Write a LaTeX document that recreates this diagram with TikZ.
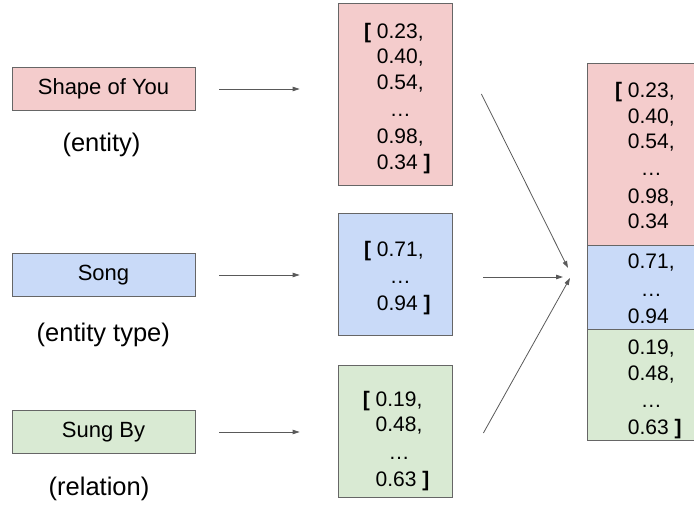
\documentclass[tikz,border=0pt]{standalone}
\usepackage{fontspec}
\setmainfont{Liberation Sans}
\usepackage{calc}
\usetikzlibrary{arrows.meta}
\definecolor{pinkc}{HTML}{F4CCCC}
\definecolor{bluec}{HTML}{C9DAF8}
\definecolor{greenc}{HTML}{D9EAD3}
\definecolor{edgec}{HTML}{666666}
\definecolor{arrc}{HTML}{595959}
\newcommand{\dotline}{\makebox[\widthof{0.40,}][c]{…}}
\newcommand{\openbr}{\llap{\textbf{[}\ }}
\newcommand{\closebr}{\rlap{\ \textbf{]}}}
\begin{document}
\begin{tikzpicture}[x=1pt,y=-1pt,
  lbox/.style={draw=edgec, line width=0.8pt, minimum width=183pt, minimum height=43pt, inner sep=0pt, font=\fontsize{22}{26}\selectfont},
  vbox/.style={draw=edgec, line width=0.8pt, minimum width=114pt, inner sep=0pt},
  vec/.style={font=\fontsize{21}{25.3}\selectfont, align=left, inner sep=0pt, anchor=west},
  captxt/.style={font=\fontsize{25.5}{30}\selectfont, inner sep=0pt},
  arr/.style={draw=arrc, line width=0.8pt, -{Triangle[length=7pt,width=4.5pt]}}]
\useasboundingbox (0,0) rectangle (694,504);

% left input boxes and captions
\node[lbox, fill=pinkc] (shape) at (103.5,89) {Shape of You};
\node[captxt] (ent) at (101.5,145.3) {(entity)};
\node[lbox, fill=bluec] (song) at (103.5,275) {Song};
\node[captxt] (enttype) at (103.3,335) {(entity type)};
\node[lbox, fill=greenc] (sung) at (103.5,432) {Sung By};
\node[captxt] (rel) at (99,489) {(relation)};

% middle vectors
\node[vbox, fill=pinkc, minimum height=182pt] (epink) at (395,94) {};
\node[vbox, fill=bluec, minimum height=122pt] (eblue) at (395,274) {};
\node[vbox, fill=greenc, minimum height=132pt] (egreen) at (395,431) {};
\node[vec] (tpink) at (376.7,98.4) {\openbr 0.23,\\0.40,\\0.54,\\[2pt]\dotline\\[2pt]0.98,\\0.34\closebr};
\node[vec] (tblue) at (376.7,277.9) {\openbr 0.71,\\[2pt]\dotline\\[2pt]0.94\closebr};
\node[vec] (tgreen) at (375.5,441) {\openbr 0.19,\\0.48,\\[2pt]\dotline\\[2pt]0.63\closebr};

% right concatenated vector
\node[vbox, fill=pinkc, minimum height=182pt] (cpink) at (644,154) {};
\node[vbox, fill=bluec, minimum height=84pt] (cblue) at (644,287) {};
\node[vbox, fill=greenc, minimum height=111pt] (cgreen) at (644,384.5) {};
\node[vec] (rpink) at (627.7,155.7) {\openbr 0.23,\\0.40,\\0.54,\\[2pt]\dotline\\[2pt]0.98,\\0.34};
\node[vec] (rblue) at (627.7,288.9) {0.71,\\[2pt]\dotline\\[2pt]0.94};
\node[vec] (rgreen) at (627.7,389.5) {0.19,\\0.48,\\[2pt]\dotline\\[2pt]0.63\closebr};

% arrows left -> middle
\draw[arr, shorten <=24pt, shorten >=38pt] (shape.east) -- (shape.east -| epink.west);
\draw[arr, shorten <=24pt, shorten >=38pt] (song.east) -- (song.east -| eblue.west);
\draw[arr, shorten <=24pt, shorten >=38pt] (sung.east) -- (sung.east -| egreen.west);

% arrows middle -> merged
\coordinate (m1) at (568,268);
\coordinate (m2) at (563,277);
\coordinate (m3) at (570,278);
\draw[arr] ([xshift=29pt]epink.east) -- (m1);
\draw[arr] ([xshift=31pt,yshift=-3pt]eblue.east) -- (m2);
\draw[arr] ([xshift=31pt,yshift=-2pt]egreen.east) -- (m3);
\end{tikzpicture}
\end{document}
